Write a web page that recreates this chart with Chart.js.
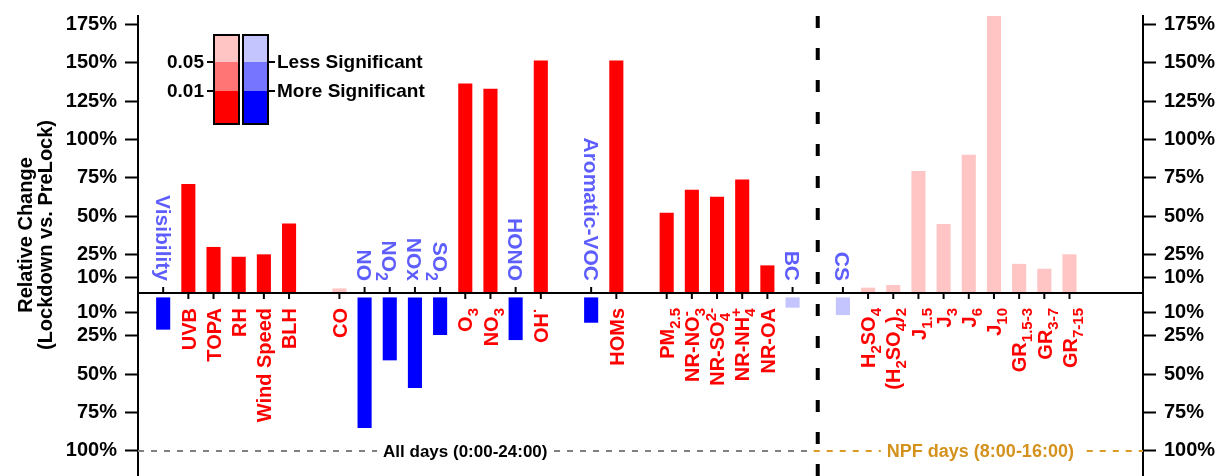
<!DOCTYPE html>
<html>
<head>
<meta charset="utf-8">
<script src="https://cdn.jsdelivr.net/npm/chart.js@4.4.1/dist/chart.umd.min.js"></script>
<style>
  html, body { margin: 0; padding: 0; background: #fff; }
  #wrap { width: 1223px; height: 476px; position: relative; }
</style>
</head>
<body>
<div id="wrap"><canvas id="chart"></canvas></div>
<script>
const FONT = "'Liberation Sans', Arial, Helvetica, sans-serif";

// ---------- data ----------
// "" = empty slot between groups; _{..} subscript, ^{..} superscript
const variables = [
  "Visibility", "UVB", "TOPA", "RH", "Wind Speed", "BLH", "",
  "CO", "NO", "NO_{2}", "NOx", "SO_{2}", "O_{3}", "NO_{3}", "HONO", "OH^{·}", "",
  "Aromatic-VOC", "HOMs", "",
  "PM_{2.5}", "NR-NO_{3}^{-}", "NR-SO_{4}^{2-}", "NR-NH_{4}^{+}", "NR-OA", "BC", "",
  "CS", "H_{2}SO_{4}", "(H_{2}SO_{4})_{2}", "J_{1.5}", "J_{3}", "J_{6}", "J_{10}",
  "GR_{1.5-3}", "GR_{3-7}", "GR_{7-15}"
];

// relative change in % (lockdown vs. prelock)
const change = [
  -21, 71, 30, 23.6, 25.2, 45.3, null,
  3, -85, -41, -59, -24.5, 136.5, 133, -27.8, 151.5, null,
  -16.5, 151.5, null,
  52.2, 67.2, 62.7, 74, 18, -6.7, null,
  -11.5, 3.5, 5.2, 79.4, 45, 90, 190,
  19, 15.8, 25.2
];

// 2 = p < 0.01, 1 = p < 0.05, 0 = less significant
const significance = [
  2, 2, 2, 2, 2, 2, null,
  0, 2, 2, 2, 2, 2, 2, 2, 2, null,
  2, 2, null,
  2, 2, 2, 2, 2, 0, null,
  0, 0, 0, 0, 0, 0, 0,
  0, 0, 0
];

const ticksUp = [10, 25, 50, 75, 100, 125, 150, 175];
const ticksDown = [10, 25, 50, 75, 100];

const reds = ["#FFC4C4", "#FF7575", "#FF0000"];
const blues = ["#C4C4FF", "#7575FF", "#0000FF"];
const labelRed = "#FF0000";
const labelBlue = "#5E5EFF";

const legendP = ["0.05", "0.01"];
const legendText = ["Less Significant", "More Significant"];
const periods = ["All days (0:00-24:00)", "NPF days (8:00-16:00)"];
const axisTitle = ["Relative Change", "(Lockdown vs. PreLock)"];
const divider = 26;

// ---------- helpers ----------
function barColor(i) {
  const s = significance[i] ?? 2;
  return change[i] < 0 ? blues[s] : reds[s];
}

function parts(label) {
  const out = [];
  const re = /([_^])\{([^}]*)\}|([^_^]+)/g;
  let m;
  while ((m = re.exec(label))) {
    if (m[3]) out.push({ t: m[3], k: "n" });
    else out.push({ t: m[2], k: m[1] === "_" ? "sub" : "sup" });
  }
  return out;
}

// draws text ending at local x = 0, caps centred on local y = 0
function drawRich(ctx, label, size) {
  const small = Math.round(size * 0.75);
  const segs = parts(label);
  let w = 0, prev = null, prevW = 0;
  const placed = [];
  segs.forEach(s => {
    ctx.font = `bold ${s.k === "n" ? size : small}px ${FONT}`;
    const sw = ctx.measureText(s.t).width;
    let x = w;
    if (s.k === "sup" && prev && prev.k === "sub") {
      x = w - prevW;
      w = x + Math.max(prevW, sw);
    } else {
      w = x + sw;
    }
    placed.push({ t: s.t, k: s.k, x });
    prev = s; prevW = sw;
  });
  const base = size * 0.36;
  placed.forEach(p => {
    ctx.font = `bold ${p.k === "n" ? size : small}px ${FONT}`;
    const dy = p.k === "sub" ? size * 0.3 : p.k === "sup" ? -size * 0.42 : 0;
    ctx.fillText(p.t, p.x - w, base + dy);
  });
}

function yAxis(position) {
  return {
    position,
    grid: { display: true, drawOnChartArea: false, drawTicks: true, tickLength: 13, tickWidth: 2, tickColor: "#000" },
    border: { display: true, color: "#000", width: 2 },
    ticks: {
      autoSkip: false,
      padding: 8,
      color: "#000",
      font: { family: FONT, size: 20, weight: "bold" },
      callback: v => Math.abs(v) + "%"
    },
    afterFit: s => {
      s.width = position === "left" ? 138 : 80;
      s.paddingTop = 0;
      s.paddingBottom = 0;
    }
  };
}

// ---------- custom drawing ----------
const decorations = {
  id: "decorations",
  afterDraw(chart) {
    const ctx = chart.ctx;
    const area = chart.chartArea;
    const xs = chart.scales.x;
    const yUp = chart.scales.yUpL;
    const yDown = chart.scales.yDownL;
    const zero = yUp.getPixelForValue(0);

    ctx.save();

    // zero line
    ctx.strokeStyle = "#000";
    ctx.lineWidth = 2;
    ctx.beginPath();
    ctx.moveTo(area.left, zero);
    ctx.lineTo(area.right, zero);
    ctx.stroke();

    // category ticks + labels
    variables.forEach((name, i) => {
      if (!name || change[i] == null) return;
      const x = xs.getPixelForValue(i);
      const up = change[i] > 0;
      ctx.strokeStyle = "#000";
      ctx.lineWidth = 2;
      ctx.beginPath();
      ctx.moveTo(x, zero);
      ctx.lineTo(x, up ? zero + 6 : zero - 6);
      ctx.stroke();

      ctx.save();
      ctx.fillStyle = up ? labelRed : labelBlue;
      ctx.textAlign = "left";
      ctx.textBaseline = "alphabetic";
      if (up) {
        ctx.translate(x, zero + 15);
        ctx.rotate(-Math.PI / 2);
      } else {
        ctx.translate(x, zero - 12);
        ctx.rotate(Math.PI / 2);
      }
      drawRich(ctx, name, up ? 20 : 21);
      ctx.restore();
    });

    // vertical divider
    const xd = xs.getPixelForValue(divider);
    ctx.strokeStyle = "#000";
    ctx.lineWidth = 4;
    ctx.setLineDash([12, 20]);
    ctx.beginPath();
    ctx.moveTo(xd, area.top);
    ctx.lineTo(xd, area.bottom);
    ctx.stroke();

    // 100% reference lines
    const y100 = yDown.getPixelForValue(-100);
    ctx.lineWidth = 2;
    ctx.setLineDash([6, 7]);
    ctx.strokeStyle = "#808080";
    ctx.beginPath();
    ctx.moveTo(area.left, y100);
    ctx.lineTo(xd - 6, y100);
    ctx.stroke();
    ctx.strokeStyle = "#D99A26";
    ctx.beginPath();
    ctx.moveTo(xd - 4, y100);
    ctx.lineTo(area.right, y100);
    ctx.stroke();
    ctx.setLineDash([]);

    ctx.textAlign = "center";
    ctx.textBaseline = "middle";
    const tx = [xs.getPixelForValue(12), (xd + area.right) / 2];
    const tc = ["#000", "#D4921C"];
    const ts = [17, 18];
    periods.forEach((t, k) => {
      ctx.font = `bold ${ts[k]}px ${FONT}`;
      const w = ctx.measureText(t).width;
      ctx.fillStyle = "#fff";
      ctx.fillRect(tx[k] - w / 2 - 6, y100 - 10, w + 12, 20);
      ctx.fillStyle = tc[k];
      ctx.fillText(t, tx[k], y100 + 1);
    });

    // significance legend
    const rows = [35, 62, 91, 124];
    const cols = [214, 243];
    const cw = 25;
    [reds, blues].forEach((pal, c) => {
      for (let r = 0; r < 3; r++) {
        ctx.fillStyle = pal[r];
        ctx.fillRect(cols[c], rows[r], cw, rows[r + 1] - rows[r]);
      }
      ctx.strokeStyle = "#000";
      ctx.lineWidth = 2;
      ctx.strokeRect(cols[c], rows[0], cw, rows[3] - rows[0]);
    });
    ctx.font = `bold 19px ${FONT}`;
    ctx.fillStyle = "#000";
    ctx.textBaseline = "middle";
    [rows[1], rows[2]].forEach((y, k) => {
      ctx.beginPath();
      ctx.moveTo(cols[0] - 7, y);
      ctx.lineTo(cols[0], y);
      ctx.moveTo(cols[1] + cw, y);
      ctx.lineTo(cols[1] + cw + 7, y);
      ctx.stroke();
      ctx.textAlign = "right";
      ctx.fillText(legendP[k], cols[0] - 10, y + 1);
      ctx.textAlign = "left";
      ctx.fillText(legendText[k], cols[1] + cw + 9, y + 1);
    });

    // y axis title
    ctx.font = `bold 20px ${FONT}`;
    ctx.textAlign = "center";
    ctx.textBaseline = "alphabetic";
    [32, 52].forEach((x, k) => {
      ctx.save();
      ctx.translate(x, 235);
      ctx.rotate(-Math.PI / 2);
      ctx.fillText(axisTitle[k], 0, 0);
      ctx.restore();
    });

    ctx.restore();
  }
};

// ---------- chart ----------
const upData = variables.map((v, i) => ({ x: i, y: change[i] > 0 ? change[i] : null }));
const downData = variables.map((v, i) => ({ x: i, y: change[i] < 0 ? change[i] : null }));

new Chart(document.getElementById("chart"), {
  type: "bar",
  data: {
    datasets: [
      {
        data: upData,
        yAxisID: "yUpL",
        backgroundColor: ctx => barColor(ctx.dataIndex),
        borderWidth: 0,
        grouped: false,
        categoryPercentage: 1,
        barPercentage: 0.56
      },
      {
        data: downData,
        yAxisID: "yDownL",
        backgroundColor: ctx => barColor(ctx.dataIndex),
        borderWidth: 0,
        grouped: false,
        categoryPercentage: 1,
        barPercentage: 0.56
      }
    ]
  },
  options: {
    responsive: true,
    maintainAspectRatio: false,
    animation: false,
    layout: { padding: { top: 16, bottom: 0, left: 0, right: 0 } },
    plugins: { legend: { display: false }, tooltip: { enabled: false } },
    scales: {
      x: { type: "linear", min: -1, max: 38.92, display: false, offset: false },
      yDownL: Object.assign(yAxis("left"), {
        stack: "left", stackWeight: 183, min: -116.35, max: 2.87,
        afterBuildTicks: s => { s.ticks = ticksDown.map(v => ({ value: -v })); }
      }),
      yUpL: Object.assign(yAxis("left"), {
        stack: "left", stackWeight: 277, min: 0, max: 180.46,
        afterBuildTicks: s => { s.ticks = ticksUp.map(v => ({ value: v })); }
      }),
      yUpR: Object.assign(yAxis("right"), {
        stack: "right", stackWeight: 277, min: 0, max: 180.46,
        afterBuildTicks: s => { s.ticks = ticksUp.map(v => ({ value: v })); }
      }),
      yDownR: Object.assign(yAxis("right"), {
        stack: "right", stackWeight: 183, min: -116.35, max: 2.87,
        afterBuildTicks: s => { s.ticks = ticksDown.map(v => ({ value: -v })); }
      })
    }
  },
  plugins: [decorations]
});
</script>
</body>
</html>
